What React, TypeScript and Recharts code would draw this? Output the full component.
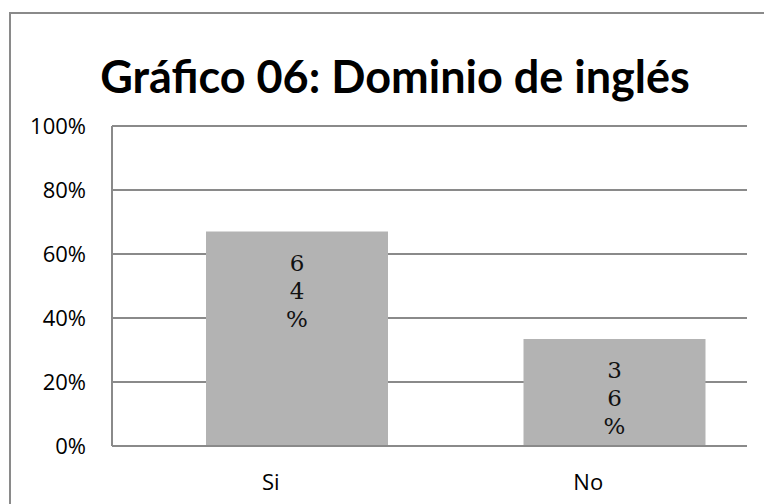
import React from 'react';
import { BarChart, Bar, XAxis, YAxis, CartesianGrid, LabelList } from 'recharts';

const categories = ['Si', 'No'];
const values = [67, 33.4];
const valueLabels = ['64%', '36%'];
const spacer = [0, 0];
const yTicks = [0, 20, 40, 60, 80, 100];

const data = categories.map((name, i) => ({
  name,
  spacer: spacer[i],
  value: values[i],
  label: valueLabels[i],
}));

const gridColor = '#8a8a8a';
const axisFont = "'Open Sans', sans-serif";

// label in the bar is drawn one character per line, like the original
const StackedLabel = (props: any) => {
  const { x, y, width, index } = props;
  const chars = valueLabels[index].split('');
  const cx = x + width / 2;
  return (
    <text
      x={cx}
      y={y + 39}
      textAnchor="middle"
      fontFamily="'DejaVu Serif', serif"
      fontSize={23}
      fill="#111"
    >
      {chars.map((c, i) => (
        <tspan key={i} x={cx} dy={i === 0 ? 0 : 28}>
          {c}
        </tspan>
      ))}
    </text>
  );
};

const App: React.FC = () => {
  return (
    <div style={{ position: 'absolute', left: 0, top: 0, width: 764, height: 504, background: '#fff' }}>
      <div
        style={{
          position: 'absolute',
          left: 9,
          top: 12,
          width: 760,
          height: 500,
          border: '2px solid #8a8a8a',
          boxSizing: 'border-box',
        }}
      />
      <svg width={764} height={110} style={{ position: 'absolute', left: 0, top: 0 }}>
        <text
          x={395}
          y={93}
          textAnchor="middle"
          fontFamily="Lato, sans-serif"
          fontWeight={700}
          fontSize={45}
          fill="#000"
        >
          Gráfico 06: Dominio de inglés
        </text>
      </svg>
      <div style={{ position: 'absolute', left: 0, top: 0 }}>
        <BarChart
          width={764}
          height={504}
          data={data}
          margin={{ top: 126, right: 17, bottom: 18, left: 22 }}
          barGap={-130}
          barSize={182}
        >
          <CartesianGrid vertical={false} stroke={gridColor} strokeWidth={2} />
          <XAxis
            dataKey="name"
            axisLine={{ stroke: gridColor, strokeWidth: 2 }}
            tickLine={false}
            tickSize={0}
            tickMargin={28}
            height={40}
            tick={{ fill: '#000', fontSize: 22, fontFamily: axisFont }}
          />
          <YAxis
            domain={[0, 100]}
            ticks={yTicks}
            tickFormatter={(v) => `${v}%`}
            axisLine={{ stroke: gridColor, strokeWidth: 2 }}
            tickLine={false}
            tickSize={0}
            tickMargin={26}
            width={90}
            tick={{ fill: '#000', fontSize: 22, fontFamily: axisFont }}
          />
          <Bar dataKey="spacer" fill="#b3b3b3" isAnimationActive={false} />
          <Bar dataKey="value" fill="#b3b3b3" isAnimationActive={false}>
            <LabelList dataKey="label" content={StackedLabel} />
          </Bar>
        </BarChart>
      </div>
    </div>
  );
};

export default App;
